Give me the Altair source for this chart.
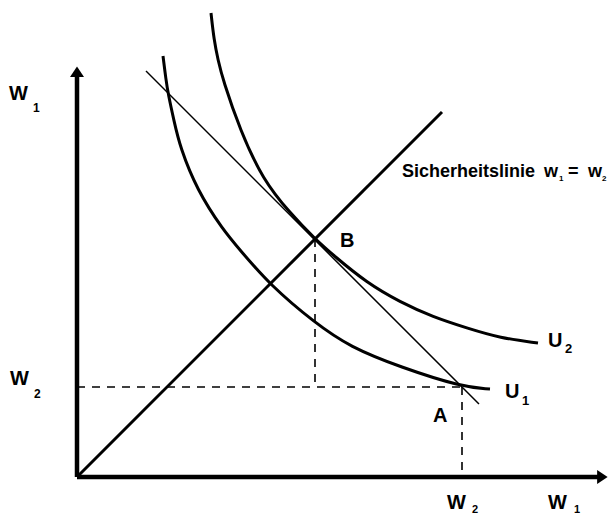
import altair as alt
import pandas as pd

# Economic coordinates: horizontal = W1 (state 1), vertical = W2 (state 2)
# Indifference curve U1
u1_x = [86, 89, 91, 97, 103, 120, 146, 163, 193, 238, 273, 323, 385, 413]
u1_y = [421, 397, 384, 356, 330, 287, 247, 227, 192, 154, 130, 110, 90, 88]
# Indifference curve U2 (tangent to budget line at B)
u2_x = [134, 137, 141, 146, 163, 186, 213, 238, 256, 290, 323, 356, 390, 423, 461]
u2_y = [464, 437, 417, 397, 347, 297, 264, 238, 222, 194, 175, 160, 149, 139, 134]
# Budget (price) line through A and B
bl_x = [69, 402]
bl_y = [406, 73]
# Safety line w1 = w2
sl_x = [0, 365]
sl_y = [0, 365]
# Points A and B
A = (385, 90)
B = (238, 238)
# Axis extents
y_axis_top = 405
x_axis_right = 525

FONT = "Liberation Sans"

xs = alt.Scale(domain=[-69, 531], nice=False, zero=False)
ys = alt.Scale(domain=[-41, 469], nice=False, zero=False)
X = alt.X("x:Q", scale=xs, axis=None)
Y = alt.Y("y:Q", scale=ys, axis=None)


def line_df(xv, yv, name):
    return pd.DataFrame({"x": xv, "y": yv, "o": list(range(len(xv))), "g": name})


def line_layer(df, width, dash=None):
    kw = dict(stroke="black", strokeWidth=width, strokeCap="butt")
    if dash:
        kw["strokeDash"] = dash
    return alt.Chart(df).mark_line(**kw).encode(x=X, y=Y, order="o:Q", detail="g:N")


def curve_layer(df, width):
    return alt.Chart(df).mark_line(
        stroke="black", strokeWidth=width, interpolate="basis"
    ).encode(x=X, y=Y, order="o:Q")


u1 = curve_layer(line_df(u1_x, u1_y, "U1"), 3)
u2 = curve_layer(line_df(u2_x, u2_y, "U2"), 3)
budget = line_layer(line_df(bl_x, bl_y, "bl"), 1.5)
safety = line_layer(line_df(sl_x, sl_y, "sl"), 3)

axes_df = pd.concat([
    line_df([0, 0], [0, y_axis_top], "yax"),
    line_df([0, x_axis_right], [0, 0], "xax"),
])
axes = line_layer(axes_df, 4.5)

dash_df = pd.concat([
    line_df([0, A[0]], [A[1], A[1]], "h"),
    line_df([B[0], B[0]], [B[1], A[1]], "vb"),
    line_df([A[0], A[0]], [A[1], 0], "va"),
])
dashes = line_layer(dash_df, 1.6, dash=[8, 7])

arrow_df = pd.DataFrame({"x": [0, x_axis_right], "y": [y_axis_top, 0], "ang": [0, 90]})
arrows = alt.Chart(arrow_df).mark_point(
    shape="M-1,0.7L0,-0.8L1,0.7Z", filled=True, color="black", opacity=1, size=196
).encode(x=X, y=Y, angle=alt.Angle("ang:Q", scale=None))


def text_layer(texts, xv, yv, fs, weight="bold"):
    df = pd.DataFrame({"x": xv, "y": yv, "t": texts})
    return alt.Chart(df).mark_text(
        align="left", baseline="alphabetic", font=FONT, fontSize=fs,
        fontWeight=weight, color="black"
    ).encode(x=X, y=Y, text="t:N")


# Big letters W (axis labels)
w_big = text_layer(["W", "W"], [-68, -67], [377, 92], 20)
w_sub = text_layer(["1", "2"], [-44, -43], [365, 79], 12)
w_big_x = text_layer(["W", "W"], [370, 471], [-32, -32], 20)
w_sub_x = text_layer(["2", "1"], [395, 497], [-36, -36], 11)
# Curve / point letters
ab_big = text_layer(["U", "U", "A", "B"], [471, 428, 356, 263], [130, 79, 55, 230], 20)
ab_sub = text_layer(["2", "1"], [488, 445], [124, 72], 13)
# Safety line label
sl_main = text_layer(["Sicherheitslinie", "w", "=", "w"], [325, 467, 491, 511], [300, 300, 300, 300], 18)
sl_sub = text_layer(["1", "2"], [482, 525], [296, 296], 8)

chart = alt.layer(
    dashes, budget, safety, u1, u2, axes, arrows,
    w_big, w_sub, w_big_x, w_sub_x, ab_big, ab_sub, sl_main, sl_sub
).properties(
    width=600, height=510, padding=0, autosize="none", background="white"
).configure_view(stroke=None)

chart.save("out.html", embed_options={"renderer": "svg", "actions": False})
